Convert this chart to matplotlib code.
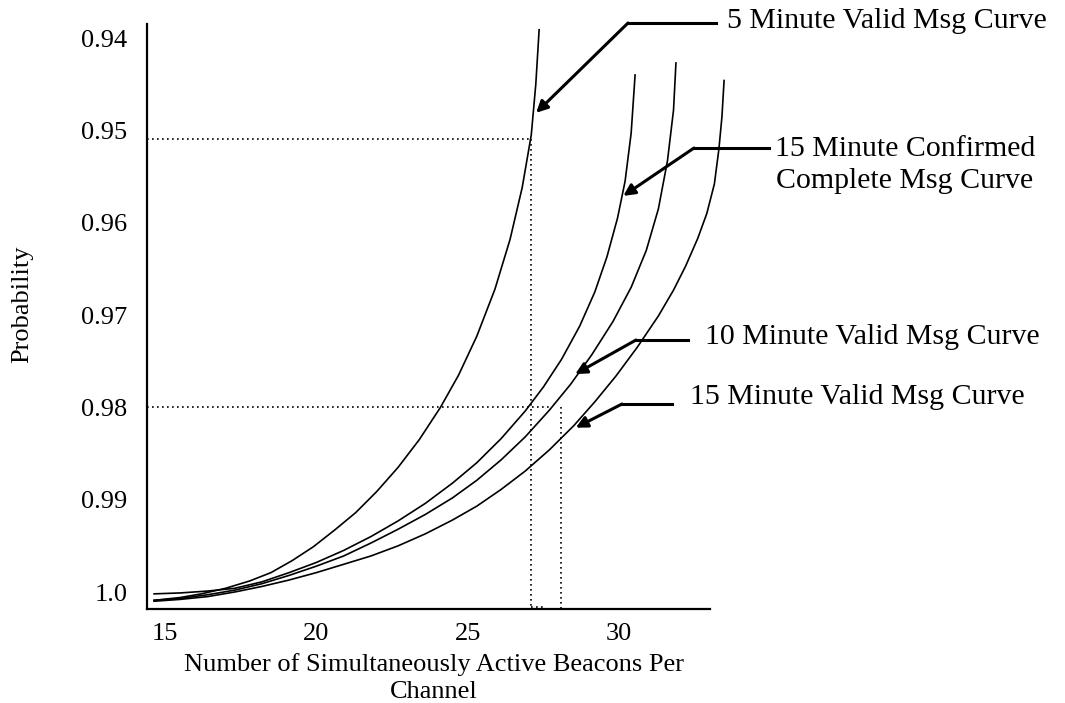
import matplotlib
matplotlib.use("Agg")
import matplotlib.pyplot as plt

plt.rcParams["font.family"] = ["Liberation Serif", "DejaVu Serif"]

# ---------------------------------------------------------------------------
# Data (beacons per channel vs. probability)
# ---------------------------------------------------------------------------

x_ticks = [15, 20, 25, 30]
y_ticks = [0.94, 0.95, 0.96, 0.97, 0.98, 0.99, 1.0]
y_tick_labels = ["0.94", "0.95", "0.96", "0.97", "0.98", "0.99", "1.0"]

beacons_5min = [14.64, 15.5, 16.2, 17.0, 17.8, 18.5, 19.2, 19.9, 20.6, 21.3, 22.0,
                22.7, 23.4, 24.1, 24.7, 25.3, 25.9, 26.4, 26.8, 27.1, 27.25, 27.36]
prob_5min = [1.0009, 1.0006, 1.0002, 0.9996, 0.9988, 0.9979, 0.9966, 0.9951, 0.9933,
             0.9914, 0.9891, 0.9865, 0.9835, 0.9800, 0.9765, 0.9723, 0.9672, 0.9618,
             0.9562, 0.9505, 0.9450, 0.9391]

beacons_15conf = [14.64, 15.5, 16.4, 17.3, 18.2, 19.1, 20.0, 20.9, 21.8, 22.7, 23.6,
                  24.5, 25.3, 26.1, 26.9, 27.5, 28.1, 28.7, 29.2, 29.6, 29.95, 30.2,
                  30.4, 30.53]
prob_15conf = [1.0002, 1.0001, 0.9999, 0.9996, 0.9989, 0.9979, 0.9968, 0.9955, 0.9940,
               0.9923, 0.9904, 0.9882, 0.9860, 0.9834, 0.9804, 0.9778, 0.9748, 0.9712,
               0.9675, 0.9637, 0.9595, 0.9555, 0.9503, 0.9440]

beacons_10min = [14.64, 15.5, 16.4, 17.3, 18.2, 19.1, 20.0, 20.9, 21.8, 22.7, 23.6,
                 24.5, 25.3, 26.1, 26.9, 27.7, 28.4, 29.1, 29.8, 30.4, 30.9, 31.3,
                 31.6, 31.8, 31.88]
prob_10min = [1.0009, 1.0007, 1.0003, 0.9998, 0.9991, 0.9982, 0.9972, 0.9961, 0.9947,
              0.9932, 0.9916, 0.9898, 0.9879, 0.9857, 0.9832, 0.9803, 0.9775, 0.9743,
              0.9707, 0.9670, 0.9630, 0.9585, 0.9533, 0.9478, 0.9427]

beacons_15min = [14.64, 15.5, 16.4, 17.3, 18.2, 19.1, 20.0, 20.9, 21.8, 22.7, 23.6,
                 24.5, 25.3, 26.1, 26.9, 27.7, 28.5, 29.2, 29.9, 30.6, 31.3, 31.8,
                 32.2, 32.6, 32.9, 33.15, 33.3, 33.4, 33.47]
prob_15min = [1.0010, 1.0008, 1.0005, 1.0000, 0.9994, 0.9987, 0.9979, 0.9970, 0.9961,
              0.9950, 0.9937, 0.9922, 0.9907, 0.9889, 0.9869, 0.9846, 0.9820, 0.9794,
              0.9766, 0.9735, 0.9701, 0.9673, 0.9647, 0.9617, 0.9590, 0.9558, 0.9520,
              0.9485, 0.9446]

# reference levels marked with dotted guides
p_5min_level = 0.9509
x_5min_level = 27.09
p_98_level = 0.98
x_98_end = 27.78
x_98_drop = 28.08
x_foot_end = 27.59
p_foot = 1.0016

# ---------------------------------------------------------------------------
# Figure
# ---------------------------------------------------------------------------

fig = plt.figure(figsize=(10.65, 7.03), dpi=100)
ax = fig.add_axes([147 / 1065, 94 / 703, 563 / 1065, 585 / 703])
ax.set_xlim(14.405, 33.005)
ax.set_ylim(1.00184, 0.93848)

for s in ("top", "right"):
    ax.spines[s].set_visible(False)
for s in ("left", "bottom"):
    ax.spines[s].set_linewidth(1.6)

ax.set_xticks(x_ticks)
ax.set_xticklabels([str(t) for t in x_ticks])
ax.set_yticks(y_ticks)
ax.set_yticklabels(y_tick_labels)
ax.tick_params(axis="both", length=0, labelsize=19)
ax.tick_params(axis="y", pad=14)
ax.tick_params(axis="x", pad=10)

curve_kw = dict(color="black", linewidth=1.2, clip_on=False)
ax.plot(beacons_5min, prob_5min, **curve_kw)
ax.plot(beacons_15conf, prob_15conf, **curve_kw)
ax.plot(beacons_10min, prob_10min, **curve_kw)
ax.plot(beacons_15min, prob_15min, **curve_kw)

# dotted guide lines
dot_kw = dict(color="black", linewidth=1.2, linestyle=(0, (1, 2)), clip_on=False)
x0, _ = ax.get_xlim()
y_bottom = ax.get_ylim()[0]
ax.plot([x0, x_5min_level], [p_5min_level, p_5min_level], **dot_kw)
ax.plot([x_5min_level, x_5min_level], [p_5min_level, y_bottom], **dot_kw)
ax.plot([x0, x_98_end], [p_98_level, p_98_level], **dot_kw)
ax.plot([x_98_drop, x_98_drop], [p_98_level, y_bottom], **dot_kw)
ax.plot([x_5min_level, x_foot_end], [p_foot, p_foot], **dot_kw)


def px(x, y):
    """Pixel position (origin top-left) -> figure fraction."""
    return (x / 1065, 1 - y / 703)


def leader(tip, elbow, end):
    """Horizontal leader line from the label, then an arrow onto the curve."""
    fig.add_artist(plt.Line2D(
        [elbow[0] / 1065, end[0] / 1065],
        [1 - elbow[1] / 703, 1 - end[1] / 703],
        color="black", linewidth=2.2,
    ))
    ax.annotate(
        "",
        xy=tip, xycoords="data",
        xytext=px(*elbow), textcoords="figure fraction",
        arrowprops=dict(arrowstyle="-|>", color="black", lw=2.2,
                        mutation_scale=17, shrinkA=0, shrinkB=0),
        annotation_clip=False,
    )


leader((27.26, 0.9481), (628, 23), (716, 23))
leader((30.14, 0.9571), (694, 148), (769, 148))
leader((28.55, 0.9764), (636, 340), (688, 340))
leader((28.57, 0.9822), (622, 404), (672, 404))

label_kw = dict(fontsize=21.5, va="center")
fig.text(*px(727, 21), "5 Minute Valid Msg Curve", ha="left", **label_kw)
fig.text(*px(905, 165), "15 Minute Confirmed\nComplete Msg Curve",
         ha="center", multialignment="center", linespacing=1.35, **label_kw)
fig.text(*px(705, 337), "10 Minute Valid Msg Curve", ha="left", **label_kw)
fig.text(*px(690, 397), "15 Minute Valid Msg Curve", ha="left", **label_kw)

fig.text(*px(434, 678), "Number of Simultaneously Active Beacons Per\nChannel",
         ha="center", va="center", multialignment="center", fontsize=19,
         linespacing=1.3)
fig.text(*px(22, 304), "Probability", rotation=90, ha="center", va="center",
         fontsize=19)

fig.savefig("out.png", dpi=100)
